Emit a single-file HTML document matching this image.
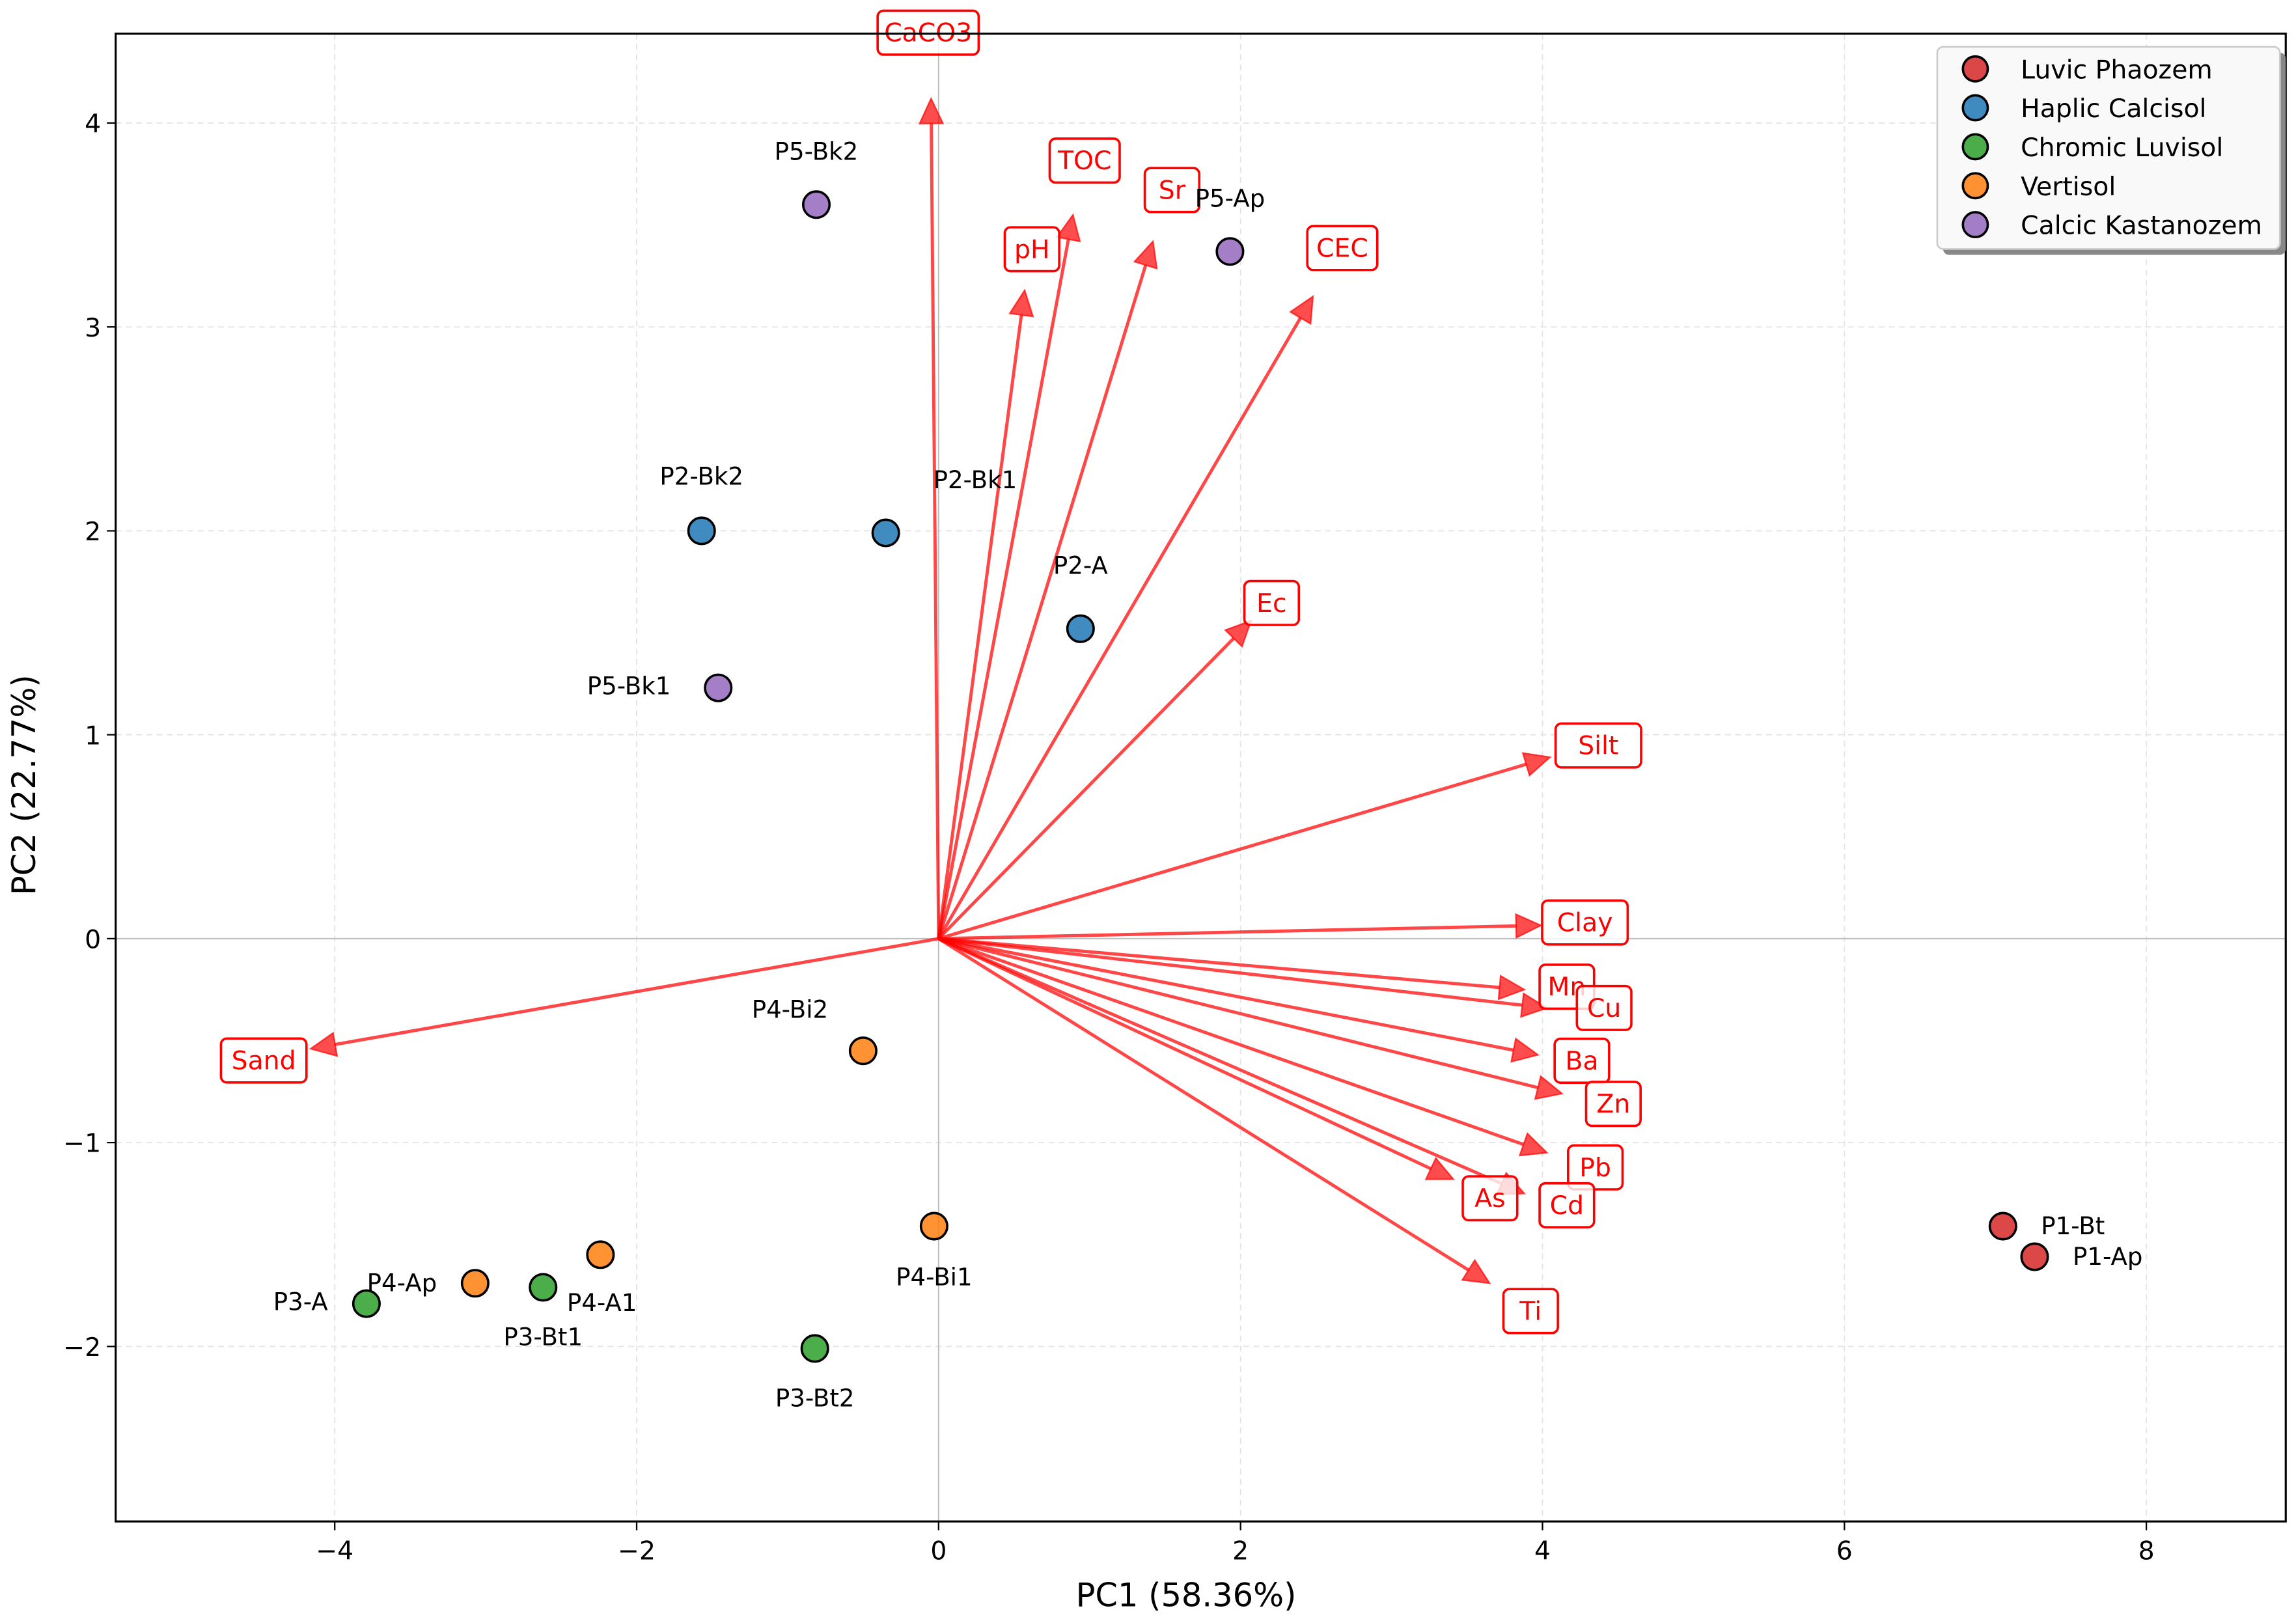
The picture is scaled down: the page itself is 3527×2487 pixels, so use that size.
<!DOCTYPE html>
<html><head><meta charset="utf-8"><style>
html,body{margin:0;padding:0;background:#fff;}
svg{display:block;font-family:"DejaVu Sans","Liberation Sans",sans-serif;}
</style></head><body>
<svg id="chart" width="3527" height="2487" viewBox="0 0 1568 1105.6" xmlns="http://www.w3.org/2000/svg">
<rect x="0" y="0" width="1568" height="1105.6" fill="#fff"/>
<g id="grid"></g><g id="arrows"></g><g id="points"></g><g id="axes"></g><g id="legend"></g>
</svg>
<script>
const xTicks = [-4, -2, 0, 2, 4, 6, 8];
const yTicks = [-2, -1, 0, 1, 2, 3, 4];
const sampleNames = ["P1-Bt","P1-Ap","P2-Bk2","P2-Bk1","P2-A","P3-A","P3-Bt1","P3-Bt2","P4-Ap","P4-A1","P4-Bi2","P4-Bi1","P5-Bk2","P5-Ap","P5-Bk1"];
const sampleGroups = [0,0,1,1,1,2,2,2,3,3,3,3,4,4,4];
const pc1Scores = [7.05,7.26,-1.57,-0.35,0.94,-3.79,-2.62,-0.82,-3.07,-2.24,-0.50,-0.03,-0.81,1.93,-1.46];
const pc2Scores = [-1.41,-1.56,2.00,1.99,1.52,-1.79,-1.71,-2.01,-1.69,-1.55,-0.55,-1.41,3.60,3.37,1.23];
const groupNames = ["Luvic Phaozem","Haplic Calcisol","Chromic Luvisol","Vertisol","Calcic Kastanozem"];
const loadingNames = ["CaCO3","TOC","pH","Sr","CEC","Ec","Silt","Clay","Mn","Cu","Ba","Zn","Pb","As","Cd","Ti","Sand"];
const loadingPC1 = [-0.05,0.89,0.57,1.42,2.48,2.07,4.05,3.99,3.88,4.03,3.97,4.13,4.03,3.41,3.88,3.65,-4.16];
const loadingPC2 = [4.12,3.55,3.18,3.42,3.15,1.56,0.89,0.065,-0.25,-0.34,-0.57,-0.76,-1.05,-1.18,-1.25,-1.69,-0.54];

// styling (not data)
const groupColors = ["#d62728","#1f77b4","#2ca02c","#ff7f0e","#9467bd"];
const sampleLabelOffsets = [[27,0],[27,0],[0,-37],[61,-36],[0,-43],[-45,-1],[0,34],[0,34],[-50,0],[1,33],[-50,-28],[0,35],[0,-36],[0,-36],[-61,-1]];
const loadingLabelOffsets = [[-2,-45],[8,-37],[5,-28],[13,-35],[20,-33],[14,-12],[33,-8],[30,-2],[29,-2],[39,0],[30,4],[35,7],[33,10],[25,13],[29,8],[28,19],[-32,8]];

const L=79,R=1561,T=23,B=1039;
const X0=641, XS=103.1, Y0=641, YS=139.25;
const sx=v=>X0+XS*v, sy=v=>Y0-YS*v;
const NS="http://www.w3.org/2000/svg";
function mk(tag,attrs,parent,text){const e=document.createElementNS(NS,tag);for(const k in attrs)e.setAttribute(k,attrs[k]);if(text!==undefined)e.textContent=text;parent.appendChild(e);return e;}
const grid=document.getElementById('grid'),arrows=document.getElementById('arrows'),points=document.getElementById('points'),axes=document.getElementById('axes'),legend=document.getElementById('legend');

xTicks.forEach(t=>{
  const g=mk('line',{x1:sx(t),x2:sx(t),y1:T,y2:B,stroke:'#e3e3e3','stroke-width':0.8,'stroke-dasharray':'4,3'},grid);
  
  
});
yTicks.forEach(t=>{
  const g=mk('line',{x1:L,x2:R,y1:sy(t),y2:sy(t),stroke:'#e3e3e3','stroke-width':0.8,'stroke-dasharray':'4,3'},grid);
  
  
});
let zl=mk('line',{x1:L,x2:R,y1:sy(0),y2:sy(0),stroke:'#bdbdbd','stroke-width':0.9},grid);


zl=mk('line',{x1:sx(0),x2:sx(0),y1:T,y2:B,stroke:'#bdbdbd','stroke-width':0.9},grid);



loadingNames.forEach((n,i)=>{
  const x1=sx(0),y1=sy(0),x2=sx(loadingPC1[i]),y2=sy(loadingPC2[i]);
  const dx=x2-x1,dy=y2-y1,len=Math.hypot(dx,dy),ux=dx/len,uy=dy/len,hl=17,hw=8;
  const bx=x2-ux*hl,by=y2-uy*hl;
  const g=mk('g',{},arrows);
  
  
  mk('line',{x1:x1,y1:y1,x2:bx,y2:by,stroke:'#ff0000','stroke-opacity':0.72,'stroke-width':2.2},g);
  mk('polygon',{points:`${x2},${y2} ${bx-uy*hw},${by+ux*hw} ${bx+uy*hw},${by-ux*hw}`,fill:'#ff0000','fill-opacity':0.7,stroke:'#ff0000','stroke-opacity':0.7,'stroke-width':1},g);
});
loadingNames.forEach((n,i)=>{
  const cx=sx(loadingPC1[i])+loadingLabelOffsets[i][0], cy=sy(loadingPC2[i])+loadingLabelOffsets[i][1];
  const w=n.length*10.6+16;
  const g=mk('g',{},arrows);
  
  
  mk('rect',{x:cx-w/2,y:cy-15,width:w,height:30,rx:4,fill:'#fff','fill-opacity':0.8,stroke:'#ff0000','stroke-width':1.6},g);
  mk('text',{x:cx,y:cy+6,'text-anchor':'middle','font-size':17.5,fill:'#ff0000'},g,n);
});

pc1Scores.forEach((v,i)=>{
  const cx=sx(v),cy=sy(pc2Scores[i]);
  const c=mk('circle',{cx:cx,cy:cy,r:9,fill:groupColors[sampleGroups[i]],'fill-opacity':0.85,stroke:'#000','stroke-width':1.6},points);
  
  
  const side=sampleLabelOffsets[i][0]>20&&Math.abs(sampleLabelOffsets[i][1])<5;
  const t=mk('text',{x:cx+sampleLabelOffsets[i][0]-(side?1:0),y:cy+sampleLabelOffsets[i][1]+5.5,'text-anchor':side?'start':'middle','font-size':16.5,fill:'#000'},points,sampleNames[i]);
  
  
});

const frame=mk('rect',{x:L,y:T,width:R-L,height:B-T,fill:'none',stroke:'#000','stroke-width':1.4},axes);


xTicks.forEach(t=>{
  mk('line',{x1:sx(t),x2:sx(t),y1:B,y2:B+6,stroke:'#000','stroke-width':1},axes);
  const tx=mk('text',{x:sx(t),y:B+26,'text-anchor':'middle','font-size':17.5,fill:'#000'},axes,(t<0?'\u2212':'')+Math.abs(t));
  
  
});
yTicks.forEach(t=>{
  mk('line',{x1:L-6,x2:L,y1:sy(t),y2:sy(t),stroke:'#000','stroke-width':1},axes);
  const tx=mk('text',{x:L-10,y:sy(t)+6.5,'text-anchor':'end','font-size':17.5,fill:'#000'},axes,(t<0?'\u2212':'')+Math.abs(t));
  
  
});
const xl=mk('text',{x:(L+R)/2-10,y:1097,'text-anchor':'middle','font-size':22,fill:'#000'},axes,'PC1 (58.36%)');


const yl=mk('text',{x:0,y:0,'text-anchor':'middle','font-size':22,fill:'#000',transform:`translate(24,${(T+B)/2+5}) rotate(-90)`},axes,'PC2 (22.77%)');



const lg=mk('g',{},legend);


mk('rect',{x:1327,y:36,width:234,height:138,rx:4,fill:'#888'},lg);
mk('rect',{x:1323,y:32,width:234,height:138,rx:4,fill:'#f9f9f9',stroke:'#ccc','stroke-width':1.2},lg);
groupNames.forEach((n,i)=>{
  const y=47+i*26.6;
  const e=mk('g',{},lg);
  
  
  mk('circle',{cx:1349,cy:y,r:8.5,fill:groupColors[i],'fill-opacity':0.85,stroke:'#000','stroke-width':1.6},e);
  mk('text',{x:1380,y:y+6.5,'font-size':17.5,fill:'#000'},e,n);
});
</script>
</body></html>
